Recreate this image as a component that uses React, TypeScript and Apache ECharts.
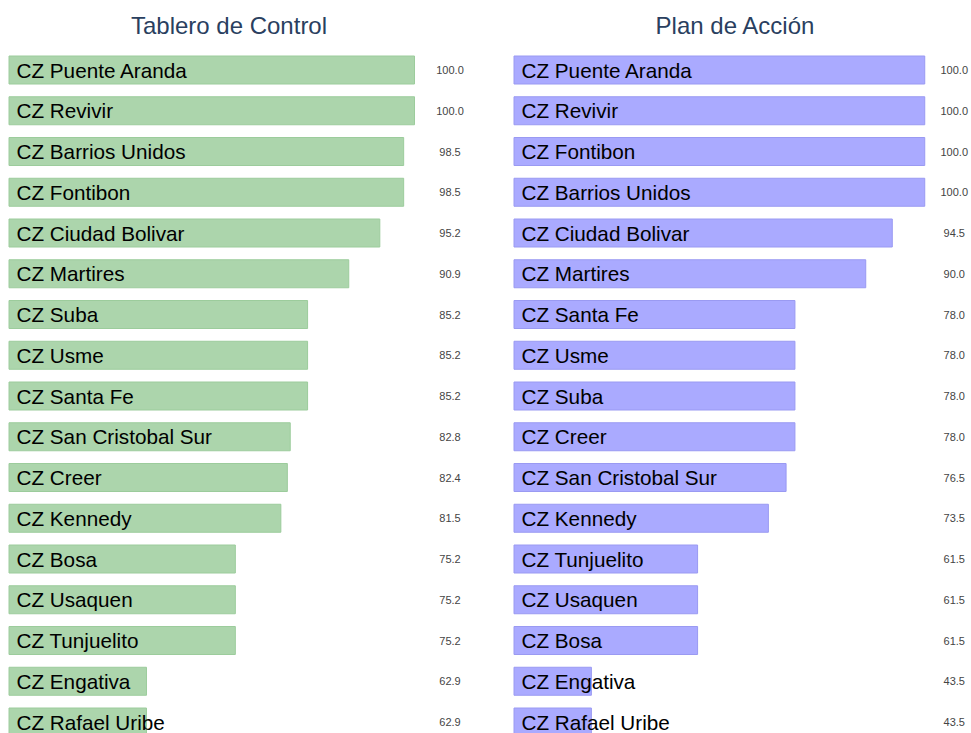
import React, { useEffect, useRef } from "react";
import * as echarts from "echarts";

const tableroCategories = [
  "CZ Puente Aranda", "CZ Revivir", "CZ Barrios Unidos", "CZ Fontibon", "CZ Ciudad Bolivar",
  "CZ Martires", "CZ Suba", "CZ Usme", "CZ Santa Fe", "CZ San Cristobal Sur", "CZ Creer",
  "CZ Kennedy", "CZ Bosa", "CZ Usaquen", "CZ Tunjuelito", "CZ Engativa", "CZ Rafael Uribe",
];
const tableroValues = [100.0, 100.0, 98.5, 98.5, 95.2, 90.9, 85.2, 85.2, 85.2, 82.8, 82.4, 81.5, 75.2, 75.2, 75.2, 62.9, 62.9];

const planCategories = [
  "CZ Puente Aranda", "CZ Revivir", "CZ Fontibon", "CZ Barrios Unidos", "CZ Ciudad Bolivar",
  "CZ Martires", "CZ Santa Fe", "CZ Usme", "CZ Suba", "CZ Creer", "CZ San Cristobal Sur",
  "CZ Kennedy", "CZ Tunjuelito", "CZ Usaquen", "CZ Bosa", "CZ Engativa", "CZ Rafael Uribe",
];
const planValues = [100.0, 100.0, 100.0, 100.0, 94.5, 90.0, 78.0, 78.0, 78.0, 78.0, 76.5, 73.5, 61.5, 61.5, 61.5, 43.5, 43.5];

const titles = ["Tablero de Control", "Plan de Acción"];

const FONT = "'Liberation Sans', Arial, Helvetica, sans-serif";

export default function App() {
  const ref = useRef<HTMLDivElement>(null);
  useEffect(() => {
    if (!ref.current) return;
    const chart = echarts.init(ref.current, undefined, { renderer: "svg" });
    const rowH = 40.75;
    const n = tableroCategories.length;
    const gridTop = 70 - rowH / 2;
    const gridH = rowH * n;
    const valueAxis = (gi: number, min: number) => ({
      type: "value",
      gridIndex: gi,
      min,
      max: 100,
      show: false,
    });
    const catAxis = (gi: number, cats: string[]) => ({
      type: "category",
      gridIndex: gi,
      data: cats,
      inverse: true,
      show: false,
    });
    const valLabelAxis = (gi: number, vals: number[], margin: number) => ({
      type: "category",
      gridIndex: gi,
      data: vals.map((v) => v.toFixed(1)),
      inverse: true,
      position: "right",
      axisLine: { show: false },
      axisTick: { show: false },
      splitLine: { show: false },
      axisLabel: {
        show: true,
        align: "center",
        margin,
        fontSize: 11,
        color: "#444",
        fontFamily: FONT,
      },
    });
    const barLabel = {
      show: true,
      position: "insideLeft",
      distance: 8,
      formatter: "{b}",
      color: "#000",
      fontSize: 20.7,
      fontFamily: FONT,
    };
    chart.setOption({
      animation: false,
      backgroundColor: "#fff",
      title: [
        {
          text: titles[0],
          left: 224,
          top: 8,
          textAlign: "center",
          textStyle: { fontSize: 24, fontWeight: "normal", color: "#2a3f5f", fontFamily: FONT },
        },
        {
          text: titles[1],
          left: 730,
          top: 8,
          textAlign: "center",
          textStyle: { fontSize: 24, fontWeight: "normal", color: "#2a3f5f", fontFamily: FONT },
        },
      ],
      grid: [
        { left: 9, top: gridTop, width: 406, height: gridH },
        { left: 514, top: gridTop, width: 412, height: gridH },
      ],
      xAxis: [valueAxis(0, 43.8), valueAxis(1, 30.3)],
      yAxis: [
        catAxis(0, tableroCategories),
        valLabelAxis(0, tableroValues, 35),
        catAxis(1, planCategories),
        valLabelAxis(1, planValues, 29),
      ],
      series: [
        {
          type: "bar",
          xAxisIndex: 0,
          yAxisIndex: 0,
          data: tableroValues,
          barWidth: 29,
          itemStyle: { color: "#acd5ac", borderColor: "#9ccc9c", borderWidth: 1 },
          label: barLabel,
        },
        {
          type: "bar",
          xAxisIndex: 1,
          yAxisIndex: 2,
          data: planValues,
          barWidth: 29,
          itemStyle: { color: "#aaaaff", borderColor: "#9a9af2", borderWidth: 1 },
          label: barLabel,
        },
      ],
    });
    return () => chart.dispose();
  }, []);
  return (
    <div
      ref={ref}
      style={{ position: "fixed", left: 0, top: 0, width: 971, height: 780, background: "#fff" }}
    />
  );
}
